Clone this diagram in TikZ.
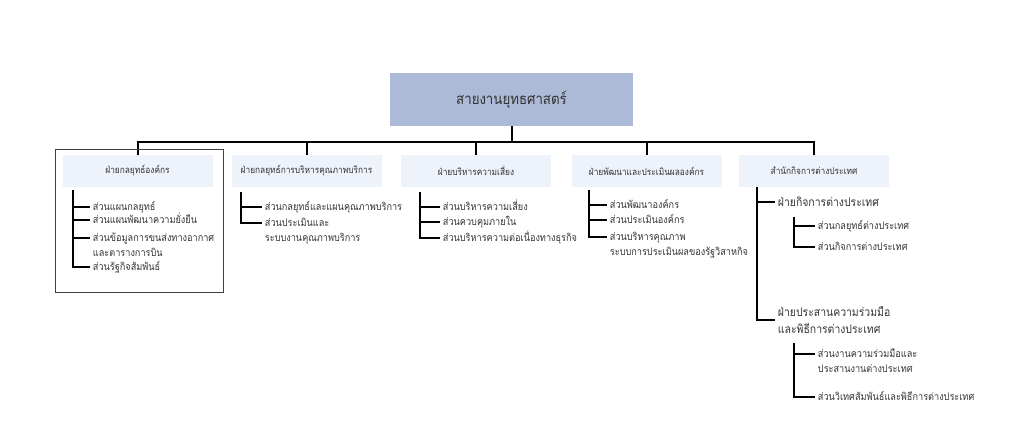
\documentclass[tikz,border=0pt]{standalone}
\usepackage{fontspec}
\newfontfamily\thaifont[Script=Thai,FakeStretch=0.88]{Loma}
\definecolor{topfill}{HTML}{ACBAD7}
\definecolor{unitfill}{HTML}{EEF2FA}
\definecolor{inkgray}{HTML}{333333}
\tikzset{
  topbox/.style={fill=topfill, minimum width=182.25pt, minimum height=39.75pt, text=inkgray, font=\thaifont\fontsize{11.3}{12}\selectfont},
  unitbox/.style={fill=unitfill, minimum width=112.5pt, minimum height=24pt, text=inkgray, font=\thaifont\fontsize{7.1}{8}\selectfont},
  item/.style={anchor=base west, yshift=-2.7pt, inner sep=2pt, align=left, text=inkgray, font=\thaifont\fontsize{7.8}{11.25}\selectfont},
  item2/.style={item, yshift=-11.25pt},
  dept/.style={anchor=west, inner sep=2pt, align=left, text=inkgray, font=\thaifont\fontsize{8.9}{12.75}\selectfont},
  conn/.style={line width=1.5pt},
}
\def\tk{2.7pt}
\def\tkk{13.95pt}
\begin{document}
\begin{tikzpicture}[x=0.75pt,y=-0.75pt]
\useasboundingbox (0,0) rectangle (1024,425);
\node[topbox] (top) at (511.5,99.5) {สายงานยุทธศาสตร์};
\coordinate (bus) at (511.5,142);
\node[unitbox] (u1) at (137.5,171) {ฝ่ายกลยุทธ์องค์กร};
\node[unitbox] (u2) at (306.5,171) {ฝ่ายกลยุทธ์การบริหารคุณภาพบริการ};
\node[unitbox] (u3) at (476,171) {ฝ่ายบริหารความเสี่ยง};
\node[unitbox] (u4) at (646.5,171) {ฝ่ายพัฒนาและประเมินผลองค์กร};
\node[unitbox] (u5) at (814,171) {สำนักกิจการต่างประเทศ};
\draw[conn] (top.south) -- (top.south |- bus);
\draw[conn] (u1.north) -- (u1.north |- bus) -| (u5.north);
\foreach \u in {u2,u3,u4}
  \draw[conn] (\u.north) -- (\u.north |- bus);
\draw[line width=0.75pt, draw=black!75] (55,149) rectangle (223,292);

% column 1
\coordinate (k1) at (73,190);
\node[item] (i11) at (90,207) {ส่วนแผนกลยุทธ์};
\node[item] (i12) at (90,220) {ส่วนแผนพัฒนาความยั่งยืน};
\node[item2] (i13) at (90,238) {ส่วนข้อมูลการขนส่งทางอากาศ\\และตารางการบิน};
\node[item] (i14) at (90,267) {ส่วนรัฐกิจสัมพันธ์};
\draw[conn] (k1) |- ([yshift=\tk]i14.base west);
\foreach \i in {i11,i12}
  \draw[conn] ([yshift=\tk]k1 |- \i.base west) -- ([yshift=\tk]\i.base west);
\draw[conn] ([yshift=\tkk]k1 |- i13.base west) -- ([yshift=\tkk]i13.base west);

% column 2
\coordinate (k2) at (241,192);
\node[item] (i21) at (262,207) {ส่วนกลยุทธ์และแผนคุณภาพบริการ};
\node[item2] (i22) at (262,223) {ส่วนประเมินและ\\ระบบงานคุณภาพบริการ};
\draw[conn] (k2) |- ([yshift=\tkk]i22.base west);
\draw[conn] ([yshift=\tk]k2 |- i21.base west) -- ([yshift=\tk]i21.base west);

% column 3
\coordinate (k3) at (420,192);
\node[item] (i31) at (440,207) {ส่วนบริหารความเสี่ยง};
\node[item] (i32) at (440,222) {ส่วนควบคุมภายใน};
\node[item] (i33) at (440,238) {ส่วนบริหารความต่อเนื่องทางธุรกิจ};
\draw[conn] (k3) |- ([yshift=\tk]i33.base west);
\foreach \i in {i31,i32}
  \draw[conn] ([yshift=\tk]k3 |- \i.base west) -- ([yshift=\tk]\i.base west);

% column 4
\coordinate (k4) at (589,190);
\node[item] (i41) at (607,205) {ส่วนพัฒนาองค์กร};
\node[item] (i42) at (607,220) {ส่วนประเมินองค์กร};
\node[item2] (i43) at (607,237) {ส่วนบริหารคุณภาพ\\ระบบการประเมินผลของรัฐวิสาหกิจ};
\draw[conn] (k4) |- ([yshift=\tkk]i43.base west);
\foreach \i in {i41,i42}
  \draw[conn] ([yshift=\tk]k4 |- \i.base west) -- ([yshift=\tk]\i.base west);

% column 5
\coordinate (k5) at (757,187);
\node[dept] (d1) at (775,202) {ฝ่ายกิจการต่างประเทศ};
\node[dept] (d2) at (775,320) {ฝ่ายประสานความร่วมมือ\\และพิธีการต่างประเทศ};
\draw[conn] (k5) |- (d2.west);
\draw[conn] (k5 |- d1.west) -- (d1.west);

\coordinate (k6) at (794,217);
\node[item] (s11) at (815,226) {ส่วนกลยุทธ์ต่างประเทศ};
\node[item] (s12) at (815,247) {ส่วนกิจการต่างประเทศ};
\draw[conn] (k6) |- ([yshift=\tk]s12.base west);
\draw[conn] ([yshift=\tk]k6 |- s11.base west) -- ([yshift=\tk]s11.base west);

\coordinate (k7) at (794,343);
\node[item2] (s21) at (815,354) {ส่วนงานความร่วมมือและ\\ประสานงานต่างประเทศ};
\node[item] (s22) at (815,397) {ส่วนวิเทศสัมพันธ์และพิธีการต่างประเทศ};
\draw[conn] (k7) |- ([yshift=\tk]s22.base west);
\draw[conn] ([yshift=\tkk]k7 |- s21.base west) -- ([yshift=\tkk]s21.base west);
\end{tikzpicture}
\end{document}
